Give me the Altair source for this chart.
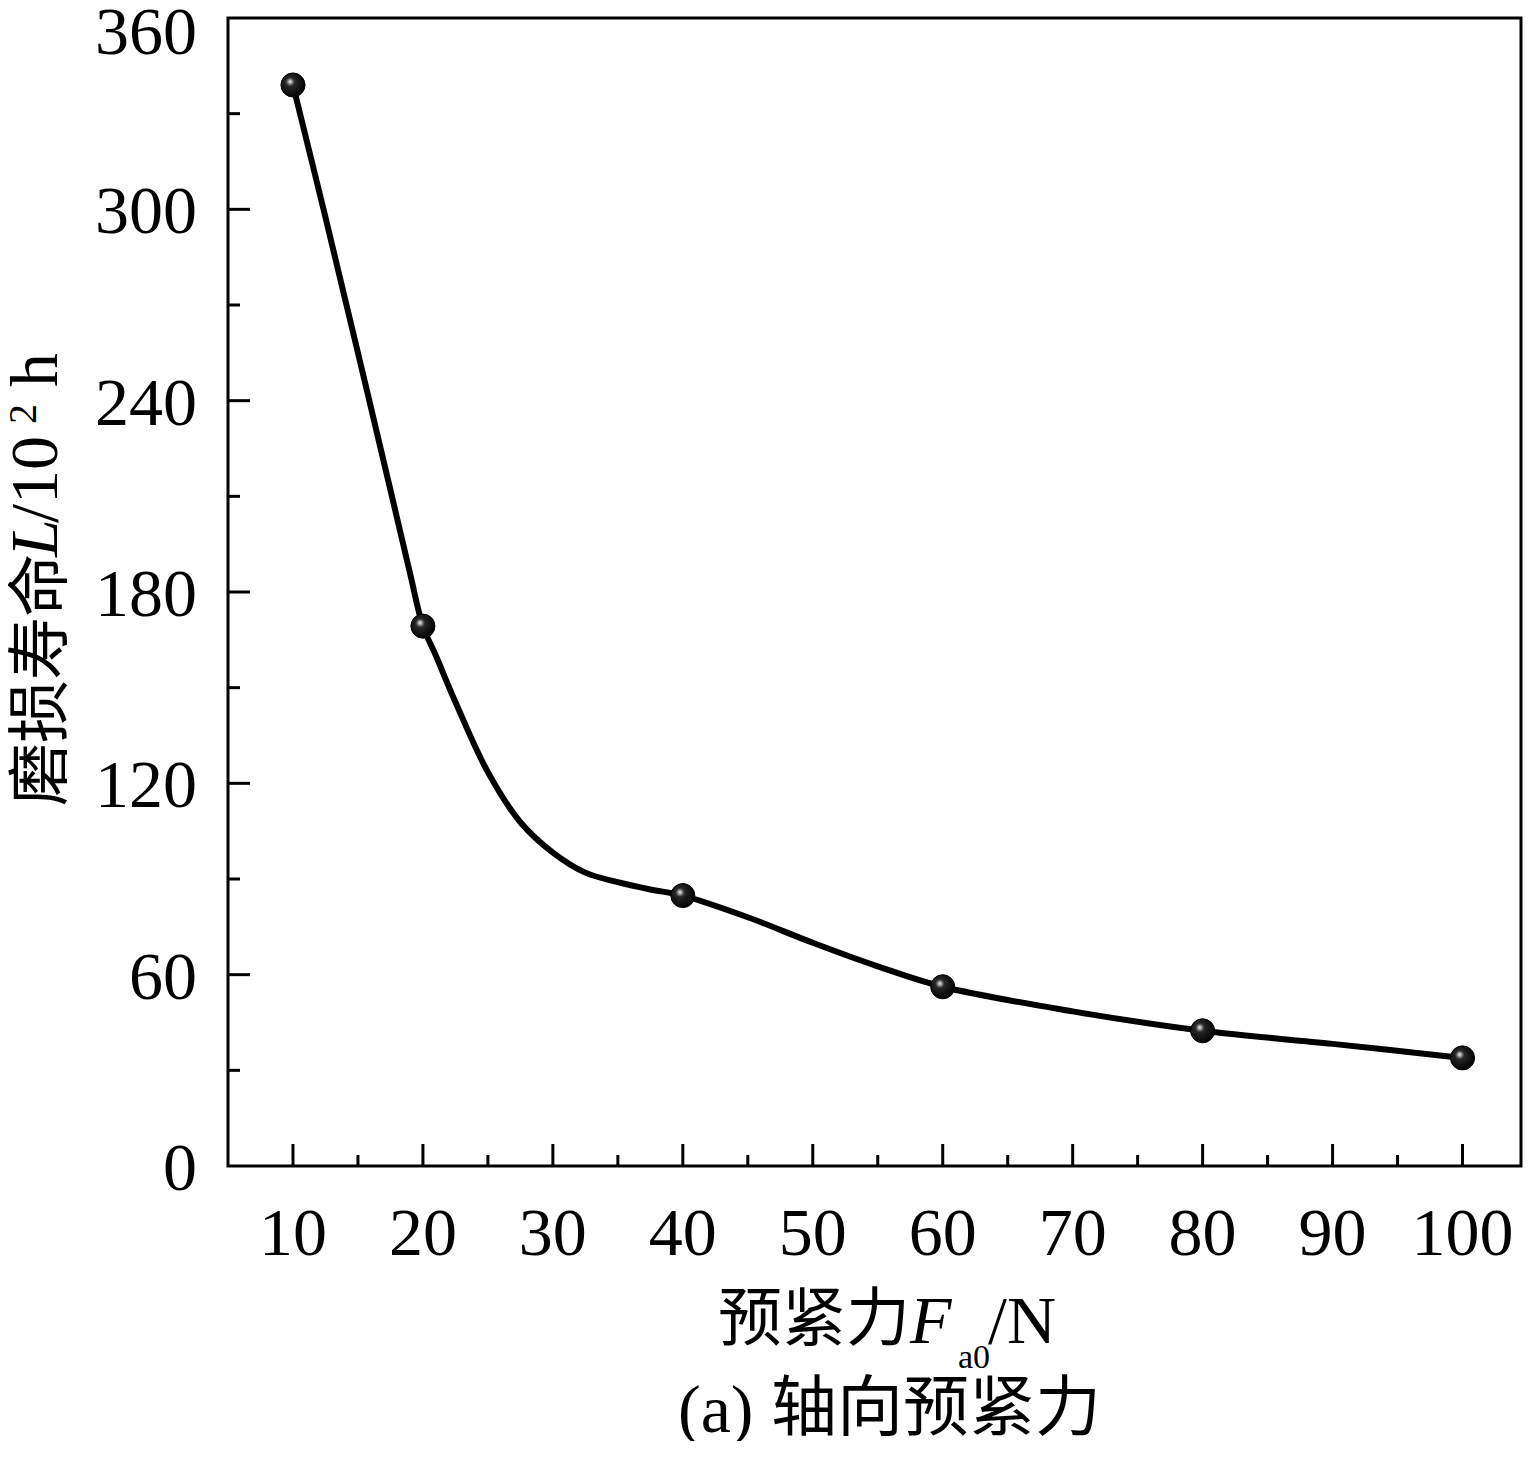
import altair as alt
import pandas as pd

# Measured points (preload force Fa0 in N, wear life L in 10^2 h)
force = [10, 20, 40, 60, 80, 100]
life = [339, 169.3, 84.8, 56.2, 42.4, 33.9]

# Samples
curve_x = [10, 12.5, 15, 17.5, 19, 20, 21, 22.5, 25, 27.5, 30, 32.5, 35, 37.5, 40,
           45, 50, 55, 60, 70, 80, 90, 100]
curve_y = [339, 297.5, 255, 212, 186, 169.3, 160, 145.5, 123.5, 107.8, 98.3, 92, 89, 86.7, 84.8,
           78, 70, 62.6, 56.2, 48.5, 42.4, 38.3, 33.9]

x_labels = [10, 20, 30, 40, 50, 60, 70, 80, 90, 100]
y_labels = [0, 60, 120, 180, 240, 300, 360]
x_major = [10, 20, 30, 40, 50, 60, 70, 80, 90, 100]
x_minor = [15, 25, 35, 45, 55, 65, 75, 85, 95]
y_major = [60, 120, 180, 240, 300]
y_minor = [30, 90, 150, 210, 270, 330]

W, H = 1293, 1148
SERIF = "Liberation Serif, Times New Roman, Noto Sans CJK SC"
CJK = "Noto Sans CJK SC"

xs = alt.Scale(domain=[5, 104.5], nice=False, zero=False)
ys = alt.Scale(domain=[0, 360], nice=False, zero=False)

curve_df = pd.DataFrame({"x": curve_x, "y": curve_y})
pts_df = pd.DataFrame({"x": force, "y": life})

line = alt.Chart(curve_df).mark_line(
    interpolate="catmull-rom", color="black", strokeWidth=6, strokeCap="round"
).encode(
    x=alt.X("x:Q", scale=xs, axis=None),
    y=alt.Y("y:Q", scale=ys, axis=None),
)

grad = alt.RadialGradient(
    gradient="radial",
    stops=[
        alt.GradientStop(offset=0, color="#ffffff"),
        alt.GradientStop(offset=0.12, color="#a0a0a0"),
        alt.GradientStop(offset=0.3, color="#262626"),
        alt.GradientStop(offset=1, color="#000000"),
    ],
    x1=0.38, y1=0.36, r1=0, x2=0.4, y2=0.4, r2=0.62,
)

points = alt.Chart(pts_df).mark_point(
    shape="circle", filled=True, size=580, fill=grad, stroke="black", strokeWidth=1, opacity=1
).encode(
    x=alt.X("x:Q", scale=xs, axis=None),
    y=alt.Y("y:Q", scale=ys, axis=None),
)

def xticks(vals, length):
    return alt.Chart(pd.DataFrame({"v": vals})).mark_rule(color="black", strokeWidth=3).encode(
        x=alt.X("v:Q", scale=xs, axis=None),
        y=alt.value(H), y2=alt.value(H - length),
    )

def yticks(vals, length):
    return alt.Chart(pd.DataFrame({"v": vals})).mark_rule(color="black", strokeWidth=3).encode(
        y=alt.Y("v:Q", scale=ys, axis=None),
        x=alt.value(0), x2=alt.value(length),
    )

# tick labels drawn through the scales
xlab = alt.Chart(pd.DataFrame({"v": x_labels})).mark_text(
    font=SERIF, fontSize=68, color="black", align="center", baseline="alphabetic"
).encode(
    x=alt.X("v:Q", scale=xs, axis=None), y=alt.value(1237), text=alt.Text("v:Q", format="d")
)
ylab_df = pd.DataFrame({"v": y_labels})
ylab = alt.Chart(ylab_df).transform_filter(alt.datum.v < 360).mark_text(
    font=SERIF, fontSize=68, color="black", align="right", baseline="alphabetic", dy=24
).encode(
    y=alt.Y("v:Q", scale=ys, axis=None), x=alt.value(-31), text=alt.Text("v:Q", format="d")
)
ylab_top = alt.Chart(ylab_df).transform_filter(alt.datum.v >= 360).mark_text(
    font=SERIF, fontSize=68, color="black", align="right", baseline="alphabetic", dy=36
).encode(
    y=alt.Y("v:Q", scale=ys, axis=None), x=alt.value(-31), text=alt.Text("v:Q", format="d")
)

def piece(text, x, y, size, font=SERIF, italic=False, angle=0):
    kw = dict(align="left", baseline="alphabetic", fontSize=size, font=font, color="black")
    if italic:
        kw["fontStyle"] = "italic"
    if angle:
        kw["angle"] = angle
    return alt.Chart(pd.DataFrame({"t": [text]})).mark_text(**kw).encode(
        x=alt.value(x), y=alt.value(y), text="t:N"
    )

# y-axis title: 磨损寿命L/10² h (rotated, reading upward)
ytitle = [
    piece("磨损寿命", -167, 788, 63, font=CJK, angle=270),
    piece("L", -171, 539, 68, italic=True, angle=270),
    piece("/10", -171, 505, 68, angle=270),
    piece("2", -192, 406, 40, angle=270),
    piece("h", -171, 369, 68, angle=270),
]

# x-axis title: 预紧力F_a0/N
xtitle = [
    piece("预紧力", 490, 1322, 64, font=CJK),
    piece("F", 682, 1325, 68, italic=True),
    piece("a0", 730, 1350, 34),
    piece("/N", 760, 1325, 68),
]

caption = [
    piece("(a)", 450, 1414, 68),
    piece("轴向预紧力", 543, 1412, 66, font=CJK),
]

chart = alt.layer(
    line, points,
    xticks(x_major, 22), xticks(x_minor, 11),
    yticks(y_major, 22), yticks(y_minor, 12),
    xlab, ylab, ylab_top,
    *ytitle, *xtitle, *caption,
).properties(
    width=W, height=H,
    padding={"left": 220, "top": 10, "right": 2, "bottom": 275},
    autosize=alt.AutoSizeParams(type="none"),
    background="white",
).configure_view(stroke="black", strokeWidth=3)

chart.save("out.html", embed_options={"renderer": "svg", "actions": False})
